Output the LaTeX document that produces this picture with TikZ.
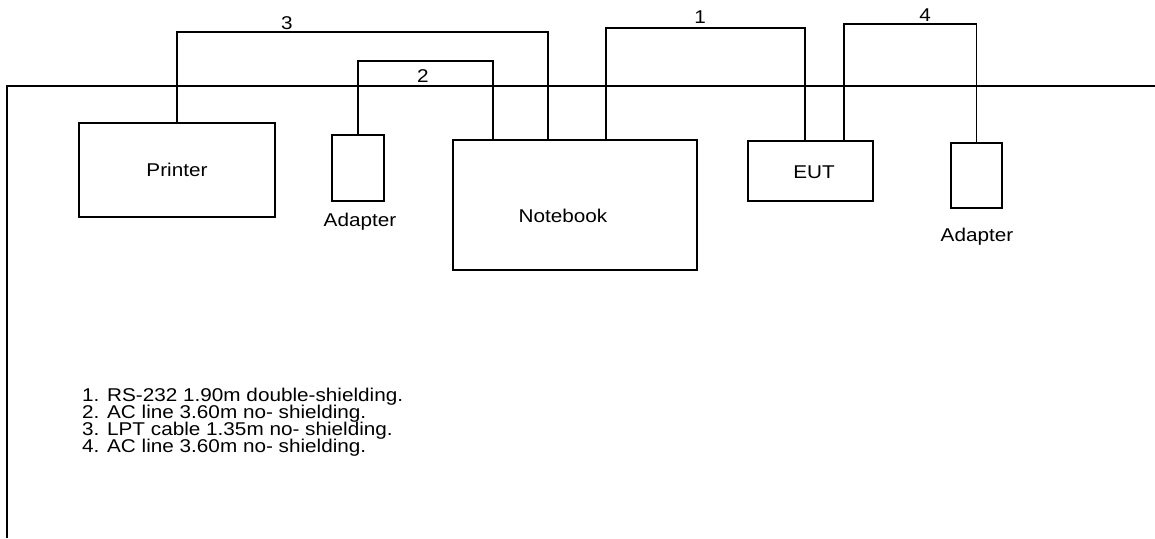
\documentclass[tikz,border=0pt]{standalone}
\usepackage{fontspec}
\setmainfont{Liberation Sans}[FakeStretch=1.12]
\usepackage{tikz}
\usetikzlibrary{positioning}

\lineskiplimit=-10pt

\tikzset{
  box/.style={draw, line width=1.4pt, inner sep=0pt},
  cable/.style={line width=1.4pt},
  tag/.style={inner sep=0pt}
}

\begin{document}
\begin{tikzpicture}[x=1pt, y=-1pt, font=\fontsize{18.5}{17}\selectfont]

\useasboundingbox (0,0) rectangle (1155,538);

% Draw table edge
\coordinate (edgeB) at (7,538);
\coordinate (edgeT) at (7,86);
\coordinate (edgeR) at (1155,86);
\draw[cable] (edgeB) -- (edgeT) -- (edgeR);

% Devices
\node[box, minimum width=196, minimum height=94] (printer) at (177,170) {Printer};
\node[box, minimum width=52, minimum height=66] (adapterA) at (358,168) {};
\node[tag] (adapterAlbl) at (360,222) {Adapter};
\node[box, minimum width=244, minimum height=130] (notebook) at (575,205) {};
\node[tag] (notebooklbl) at (563,216) {Notebook};
\node[box, minimum width=125, minimum height=60] (eut) at (810.5,171) {};
\node[tag] (eutlbl) at (814,172) {EUT};
\node[box, minimum width=51, minimum height=65] (adapterB) at (976.5,175.5) {};
\node[tag] (adapterBlbl) at (977,237) {Adapter};

% Cables
\coordinate (c3) at (548,32);
\draw[cable] (printer.north) |- (c3) -- (c3 |- notebook.north);
\node[tag] (lbl3) at (287,23) {3};

\coordinate (c2) at (493,61);
\draw[cable] (adapterA.north) |- (c2) -- (c2 |- notebook.north);
\node[tag] (lbl2) at (423,76) {2};

\coordinate (c1a) at (606,28);
\coordinate (c1b) at (805,28);
\draw[cable] (c1a |- notebook.north) -- (c1a) -- (c1b) -- (c1b |- eut.north);
\node[tag] (lbl1) at (700,17) {1};

\coordinate (c4) at (844,24);
\draw[cable] (c4 |- eut.north) -- (c4) -| (adapterB.north);
\node[tag] (lbl4) at (925,15) {4};

% Cable list
\node[tag, anchor=north west, align=left] (legend) at (82,388) {1. RS-232 1.90m double-shielding.\\
2. AC line 3.60m no- shielding.\\
3. LPT cable 1.35m no- shielding.\\
4. AC line 3.60m no- shielding.};

\end{tikzpicture}
\end{document}
